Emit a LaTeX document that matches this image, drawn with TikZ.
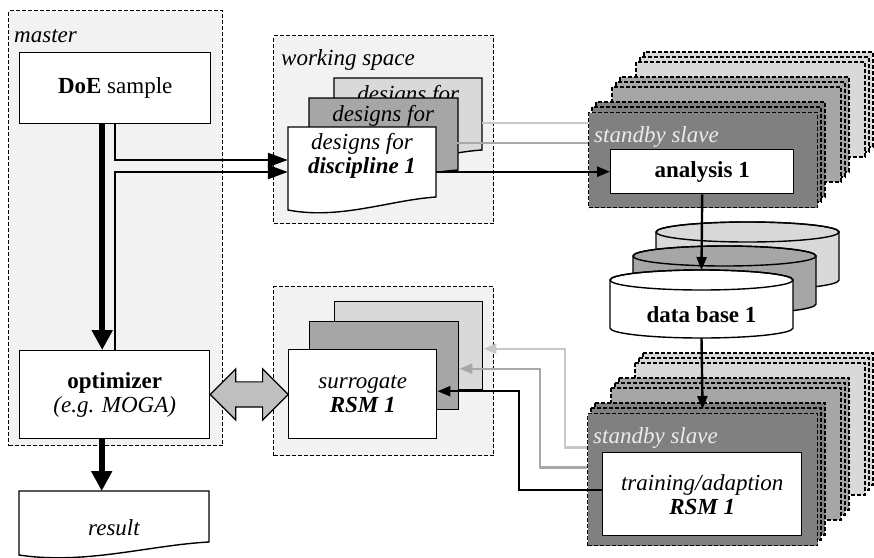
\documentclass[tikz,border=0pt]{standalone}
\usepackage{fontspec}
\setmainfont{Liberation Serif}
\usetikzlibrary{positioning,calc,arrows.meta,shapes.arrows}

\definecolor{spacegray}{HTML}{F2F2F2}
\definecolor{doclight}{HTML}{D9D9D9}
\definecolor{docmid}{HTML}{A6A6A6}
\definecolor{slavedark}{HTML}{808080}
\definecolor{slavetext}{HTML}{EBEBEB}
\definecolor{linklight}{HTML}{C8C8C8}
\definecolor{linkmid}{HTML}{A8A8A8}
\definecolor{swapgray}{HTML}{BFBFBF}

\newcommand{\figfont}{\fontsize{23}{24}\selectfont}
\newcommand{\docshape}[5]{%
  \draw[line width=1.4pt, fill=#5] (#1,#2) -- (#3,#2) -- (#3,#4-16)
    .. controls ({#3-0.31*(#3-#1)},#4-13) and ({#1+0.35*(#3-#1)},#4+7) .. (#1,#4-3) -- cycle;}

\begin{document}
\begin{tikzpicture}[x=1pt, y=-1pt, font=\figfont,
    container/.style={draw, dash pattern=on 4pt off 2pt, line width=1.1pt, fill=spacegray, inner sep=0pt, anchor=north west},
    spacelabel/.style={font=\figfont\itshape, anchor=base west, inner sep=0pt},
    box/.style={draw, fill=white, line width=1.4pt, inner sep=0pt, align=center, anchor=north west},
    sheet/.style={draw, line width=1.4pt, inner sep=0pt, anchor=north west, minimum width=148pt, minimum height=88pt},
    doctext/.style={font=\figfont\itshape, inner sep=0pt, align=center, minimum width=148pt},
    doctop/.style={doctext, anchor=north west, text height=15.7pt, text depth=40.7pt, inner ysep=7.8pt},
    slavebox/.style={draw, dash pattern=on 4pt off 2pt, line width=1.1pt},
    slavelabel/.style={font=\figfont\itshape, text=slavetext, anchor=base west, inner sep=0pt},
    link/.style={line width=2.4pt, -{Triangle[length=13pt,width=10pt]}},
    biglink/.style={line width=2.4pt, -{Triangle[length=20pt,width=14pt]}},
    lightlink/.style={draw=linklight, line width=2.4pt},
    midlink/.style={draw=linkmid, line width=2.4pt},
    flow/.style={line width=6pt, -{Triangle[length=20pt,width=20pt]}},
    swap/.style={double arrow, draw, fill=swapgray, line width=1.2pt, inner sep=12pt, double arrow head extend=13pt, minimum height=78pt}]

\useasboundingbox (0,0) rectangle (874,557);

% master
\node[container, minimum width=214pt, minimum height=435pt] (master) at (8,10) {};
\node[spacelabel] (masterlabel) at (14,42) {master};
\node[box, minimum width=191pt, minimum height=71pt] (doe) at (19,52) {\textbf{DoE} sample};
\node[box, minimum width=190pt, minimum height=88pt] (optim) at (19,350) {\textbf{optimizer}\\\textit{(e.g. MOGA)}};
\docshape{19}{491}{209}{558}{white}
\node[doctext, anchor=north, minimum width=190pt, minimum height=72pt] (result) at (114,491) {result};

% working space with the designs
\node[container, minimum width=220pt, minimum height=188pt] (work) at (273,35) {};
\node[spacelabel] (worklabel) at (281,65) {working space};
\docshape{334}{78}{482}{166}{doclight}
\node[doctop] (designB) at (334,78) {designs for};
\docshape{309}{98}{458}{186}{docmid}
\node[doctop] (designM) at (309,98) {designs for};
\docshape{288}{127}{436}{213}{white}
\node[doctext] (design1) at (362,156) {designs for\\\textbf{discipline 1}};

% surrogates
\node[container, minimum width=220pt, minimum height=169pt] (surrspace) at (273,286) {};
\node[sheet, fill=doclight] (surrB) at (334,301) {};
\node[sheet, fill=docmid, minimum width=149pt] (surrM) at (309,321) {};
\node[sheet, fill=white, font=\figfont\itshape, align=center, minimum height=89pt] (surr1) at (288,349) {surrogate\\\textbf{RSM 1}};

% slaves for the analyses
\foreach \g/\c/\col in {2/2/doclight,2/1/doclight,2/0/doclight,1/2/docmid,1/1/docmid,1/0/docmid,0/2/slavedark,0/1/slavedark}{
  \draw[slavebox, fill=\col] ({588+24*\g+4*\c},{112-25*\g-5*\c}) rectangle ++(229,95);
  \ifnum\c=0 \node[slavelabel] (toplabel\g) at ({594+24*\g},{142-25*\g}) {standby slave};\fi
}
\node[slavebox, fill=slavedark, inner sep=0pt, anchor=north west, minimum width=229pt, minimum height=95pt] (slaveA) at (588,112) {};
\node[slavelabel] (slaveAlabel) at (594,142) {standby slave};
\node[box, minimum width=183pt, minimum height=44pt] (analysis) at (610,149) {\textbf{analysis 1}};

% data bases
\foreach \k/\col in {2/doclight,1/docmid,0/white}{
  \draw[line width=1.4pt, fill=\col] ({610+23*\k},{280-24*\k}) -- ({610+23*\k},{328-24*\k})
    arc[start angle=180, end angle=360, x radius=91.5pt, y radius=10pt] -- ({793+23*\k},{280-24*\k})
    arc[start angle=0, end angle=180, x radius=91.5pt, y radius=10pt] -- cycle;
  \draw[line width=1.4pt] ({701.5+23*\k},{280-24*\k}) ellipse [x radius=91.5pt, y radius=10pt];
}
\node (db1) at (701.5,315) {\textbf{data base 1}};
\coordinate (db1top) at (701.5,270);
\coordinate (db1bottom) at (701.5,338);

% slaves for the training
\foreach \g/\c/\col in {2/2/doclight,2/1/doclight,2/0/doclight,1/2/docmid,1/1/docmid,1/0/docmid,0/2/slavedark,0/1/slavedark}{
  \draw[slavebox, fill=\col] ({587+24*\g+4*\c},{413-25*\g-5*\c}) rectangle ++(230,132);
  \ifnum\c=0 \node[slavelabel] (lowlabel\g) at ({593+24*\g},{443-25*\g}) {standby slave};\fi
}
\node[slavebox, fill=slavedark, inner sep=0pt, anchor=north west, minimum width=230pt, minimum height=132pt] (slaveB) at (587,413) {};
\node[slavelabel] (slaveBlabel) at (593,443) {standby slave};
\node[box, font=\figfont\itshape, minimum width=199pt, minimum height=83pt] (training) at (602,452) {training/adaption\\\textbf{RSM 1}};

% connectors
\draw[flow] ([xshift=-13pt]doe.south) -- ([xshift=-13pt]doe.south |- optim.north);
\draw[flow] ([xshift=-13pt]optim.south) -- ([xshift=-13pt]optim.south |- result.north);
\draw[biglink] (doe.south) |- ([yshift=-4pt]design1.west);
\draw[biglink] (optim.north) |- ([yshift=-16pt]design1.west);
\draw[link] (design1.east |- analysis.west) -- (analysis.west);
\draw[lightlink] ([yshift=-9pt]designB.east) -- ([yshift=-9pt]designB.east -| slaveA.west);
\draw[midlink] ([yshift=-9pt]designM.east) -- ([yshift=-9pt]designM.east -| slaveA.west);
\draw[link] (analysis.south) -- (db1top);
\draw[link] (db1bottom) -- ([yshift=4pt]slaveB.north);
\draw[lightlink, -{Triangle[length=13pt,width=10pt]}] ([yshift=32pt]slaveB.west) -- ++(-22,0) |- ([yshift=-3pt]surrB.east);
\draw[midlink, -{Triangle[length=13pt,width=10pt]}] ([yshift=12pt]slaveB.west) -- ++(-47,0) |- ([yshift=-3pt]surrM.east);
\draw[link] ([yshift=4pt]training.west) -- ++(-83,0) |- ([yshift=3pt]surr1.east);
\node[swap] (exchange) at ($(optim.east)!0.5!(surr1.west)$) {};
\end{tikzpicture}
\end{document}
